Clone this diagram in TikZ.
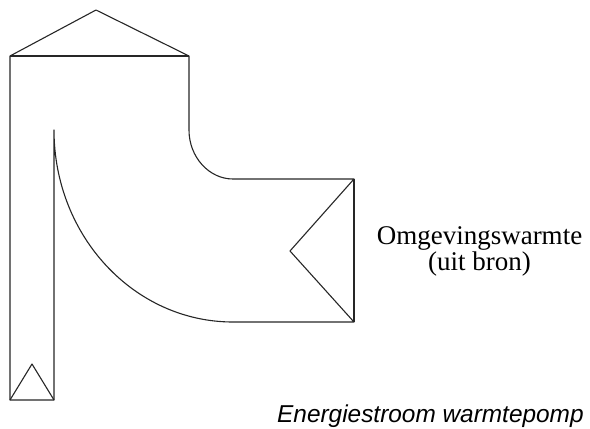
\documentclass[tikz,border=0pt]{standalone}
\usepackage{fontspec}
\setmainfont{Liberation Serif}
\newfontfamily\captionfont{Liberation Sans}
\usepackage{tikz}
\usetikzlibrary{positioning}

\begin{document}
\begin{tikzpicture}[
        x=1pt, y=-1pt,
        flow/.style={draw=black!85, line width=1.1pt, line join=round},
        heatText/.style={align=center, inner sep=0pt, font=\fontsize{27}{26}\selectfont},
        captionText/.style={inner sep=0pt, font=\captionfont\itshape\fontsize{24.4}{26}\selectfont}
      ]
      \useasboundingbox (0,0) rectangle (590,429);
      % outline of the energy flow
      \draw[flow] (54,130) .. controls (54,236) and (134,322) .. (233,322)
        -- (354,322) -- (290,251) -- (354,179) -- (233,179)
        .. controls (209,179) and (189,157) .. (189,130)
        -- (189,56) -- (96,10) -- (10,56) -- (10,400) -- (54,400) -- cycle;
      \draw[flow] (10,56) -- (189,56);
      \draw[flow] (354,179) -- (354,322);
      \draw[flow] (10,400) -- (32,364) -- (54,400);
      \node[heatText] (heat) at (479.5,251) {Omgevingswarmte\\(uit bron)};
      \node[captionText, anchor=base west] (caption) at (277,422) {Energiestroom warmtepomp};
    \end{tikzpicture}
\end{document}
